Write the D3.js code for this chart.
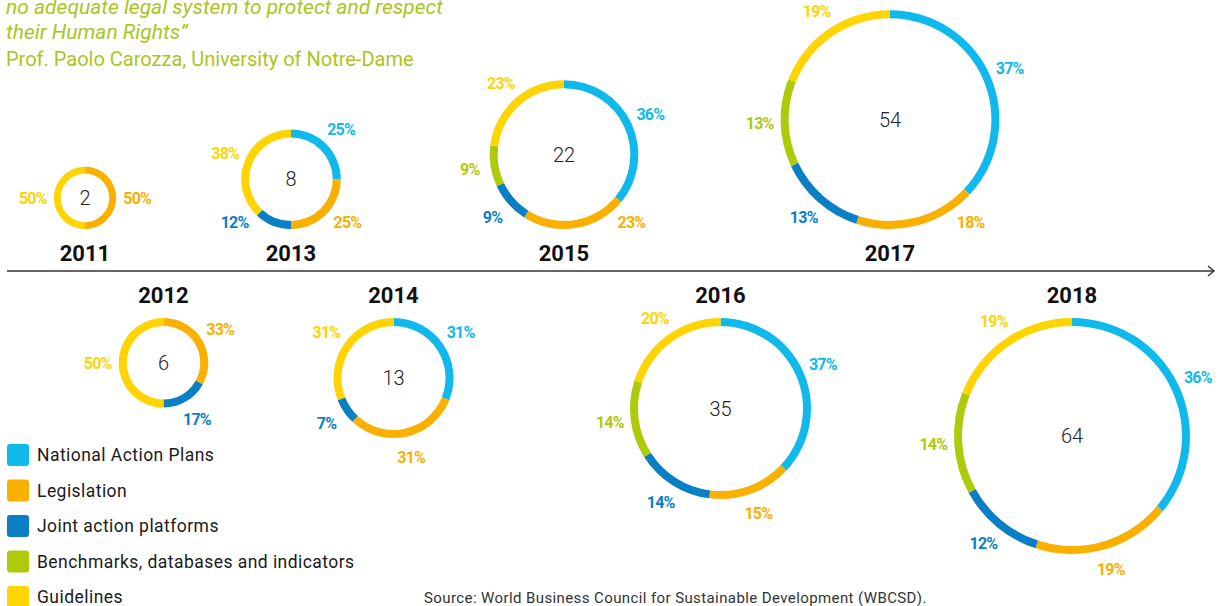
<!DOCTYPE html>
<html>
<head>
<meta charset="utf-8">
<script src="https://cdn.jsdelivr.net/npm/d3@7"></script>
<style>
  body { margin: 0; background: #fff; }
  svg { display: block; font-family: Roboto, "Open Sans", sans-serif; }
</style>
</head>
<body>
<div id="chart"></div>
<script>
// data
var years = [2011, 2012, 2013, 2014, 2015, 2016, 2017, 2018];
var totals = [2, 6, 8, 13, 22, 35, 54, 64];
var categories = ["National Action Plans", "Legislation", "Joint action platforms",
                  "Benchmarks, databases and indicators", "Guidelines"];
// share of each category per year, in %
var nap       = [0, 0, 25, 31, 36, 37, 37, 36];
var legis     = [50, 33, 25, 31, 23, 15, 18, 19];
var joint     = [0, 17, 12, 7, 9, 14, 13, 12];
var bench     = [0, 0, 0, 0, 9, 14, 13, 14];
var guide     = [50, 50, 38, 31, 23, 20, 19, 19];
var quoteLines = ["no adequate legal system to protect and respect", "their Human Rights\u201d"];
var quoteAuthor = "Prof. Paolo Carozza, University of Notre-Dame";
var source = "Source: World Business Council for Sustainable Development (WBCSD).";

var colors = ["#10b9ec", "#f9b000", "#0a7fc6", "#afca0b", "#ffd400"];
var quoteColor = "#a9c61c";

// layout
var W = 1222, H = 606;
var axisY = 271;
var timelineX = [85, 163.5, 291, 393.5, 564, 720.5, 890, 1072];

var svg = d3.select("#chart").append("svg").attr("width", W).attr("height", H);

var x = d3.scaleLinear().domain(years).range(timelineX);
var r = d3.scaleSqrt().domain([0, 64]).range([12.5, 118]);
var color = d3.scaleOrdinal().domain(categories).range(colors);

// quote
svg.selectAll("text.quote").data(quoteLines).enter().append("text")
    .attr("class", "quote")
    .attr("x", 6).attr("y", function (d, i) { return 14 + i * 25; })
    .attr("font-size", 21).attr("font-style", "italic")
    .attr("fill", quoteColor).text(function (d) { return d; });
svg.append("text").attr("x", 6).attr("y", 66)
    .attr("font-size", 20).attr("fill", quoteColor).text(quoteAuthor);

// timeline axis with arrow
svg.append("line").attr("x1", 7).attr("x2", 1214).attr("y1", axisY).attr("y2", axisY)
    .attr("stroke", "#333").attr("stroke-width", 1.4);
svg.append("path").attr("d", "M1208," + (axisY - 5) + "L1214," + axisY + "L1208," + (axisY + 5))
    .attr("fill", "none").attr("stroke", "#333").attr("stroke-width", 1.4);

var pie = d3.pie().sort(null).value(function (d) { return d.v; });

years.forEach(function (yr, i) {
    var rad = r(totals[i]);
    var top = i % 2 == 0;
    var cy = top ? axisY - 42 - rad : axisY + 47 + rad;
    var thick = Math.min(8, rad * 0.22);
    var vals = [nap[i], legis[i], joint[i], bench[i], guide[i]].map(function (v, k) {
        return { v: v, cat: categories[k] };
    });
    var g = svg.append("g").attr("transform", "translate(" + x(yr) + "," + cy + ")");
    var arc = d3.arc().innerRadius(rad - thick).outerRadius(rad);
    var R = rad + 21;
    var labelArc = d3.arc().innerRadius(R).outerRadius(R);
    var arcs = pie(vals);

    // label position; for the upper row keep labels above the axis, slide them sideways
    var labelPos = function (d) {
        var p = labelArc.centroid(d);
        var maxY = rad - 7;
        if (top && p[1] > maxY) {
            var dx = Math.sqrt(Math.max(0, R * R - maxY * maxY));
            p = [p[0] < 0 ? -dx : dx, maxY];
        }
        return p;
    };

    g.selectAll("path").data(arcs).enter().append("path")
        .attr("d", arc).attr("fill", function (d) { return color(d.data.cat); });

    g.selectAll("text.pct").data(arcs.filter(function (d) { return d.data.v > 0; }))
        .enter().append("text").attr("class", "pct")
        .attr("transform", function (d) { return "translate(" + labelPos(d) + ")"; })
        .attr("text-anchor", "middle").attr("dy", "0.36em")
        .attr("font-size", 16).attr("font-weight", 700).attr("letter-spacing", -0.8)
        .attr("fill", function (d) { return color(d.data.cat); })
        .text(function (d) { return d.data.v + "%"; });

    g.append("text").attr("text-anchor", "middle").attr("dy", "0.36em")
        .attr("font-size", 20).attr("font-weight", 300).attr("fill", "#222")
        .text(totals[i]);

    svg.append("text").attr("x", x(yr)).attr("y", top ? 261 : 303)
        .attr("text-anchor", "middle").attr("font-size", 22).attr("font-weight", 700)
        .attr("fill", "#111").text(yr);
});

// legend
var leg = svg.selectAll("g.leg").data(categories).enter().append("g").attr("class", "leg")
    .attr("transform", function (d, i) { return "translate(7," + (455 + i * 35.5) + ")"; });
leg.append("rect").attr("x", 0).attr("y", -11).attr("width", 22).attr("height", 22)
    .attr("rx", 3).attr("fill", function (d) { return color(d); });
leg.append("text").attr("x", 30).attr("dy", "0.35em").attr("font-size", 17.5)
    .attr("letter-spacing", 0.45).attr("fill", "#1a1a1a").text(function (d) { return d; });

svg.append("text").attr("x", 424).attr("y", 603).attr("font-size", 15)
    .attr("letter-spacing", 0.4).attr("fill", "#333").text(source);
</script>
</body>
</html>
